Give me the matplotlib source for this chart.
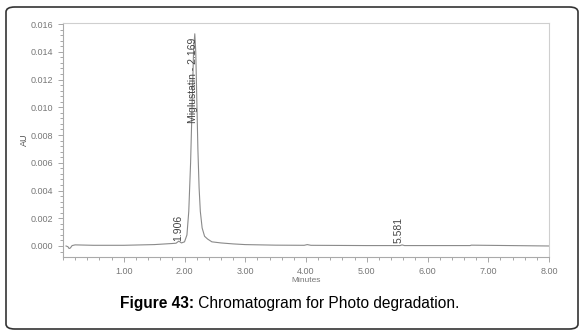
import matplotlib; matplotlib.use('Agg')
import matplotlib.pyplot as plt
from matplotlib.patches import FancyBboxPatch
from matplotlib.ticker import MultipleLocator, FormatStrFormatter

plt.rcParams['font.family'] = ['Liberation Sans', 'DejaVu Sans']

# chromatogram trace (minutes, AU)
minutes = [0.05, 0.08, 0.10, 0.12, 0.15, 0.20, 0.50, 1.00, 1.50, 1.80, 1.86, 1.906, 1.95,
           2.00, 2.04, 2.07, 2.10, 2.13, 2.15, 2.169, 2.185, 2.20, 2.22, 2.24, 2.26, 2.29,
           2.33, 2.38, 2.45, 2.60, 2.80, 3.00, 3.50, 3.97, 4.02, 4.08, 5.00, 5.55, 5.58,
           5.62, 6.70, 6.72, 8.00]
au = [0.0, -0.00005, -0.00018, -0.00015, 0.00003, 0.00008, 0.00005, 0.00005, 0.0001,
      0.00018, 0.0002, 0.00035, 0.00022, 0.0003, 0.0008, 0.0025, 0.0060, 0.0110, 0.0142,
      0.0153, 0.0140, 0.0110, 0.0070, 0.0042, 0.0025, 0.0013, 0.0007, 0.0005, 0.0003,
      0.00022, 0.00015, 0.0001, 0.00006, 0.00005, 0.0001, 0.00005, 0.00003, 0.00003,
      0.00008, 0.00003, 0.00003, 0.00006, 0.0]

peak_labels = ['1.906', 'Miglustatin - 2.169', '5.581']
peak_x = [1.90, 2.135, 5.53]
peak_y = [0.00036, 0.0089, 0.00018]

fig = plt.figure(figsize=(5.86, 3.35), dpi=100)
ax = fig.add_axes([0.1075, 0.233, 0.8295, 0.698])

ax.plot(minutes, au, color='#8a8a8a', lw=0.8)
for lab, x, y in zip(peak_labels, peak_x, peak_y):
    ax.text(x, y, lab, rotation=90, ha='center', va='bottom', fontsize=7.5,
            color='#444444', family=['Liberation Sans Narrow', 'Liberation Sans'])

ax.set_xlim(0, 8)
ax.set_ylim(-0.00079, 0.01607)
ax.xaxis.set_minor_locator(MultipleLocator(0.2))
ax.yaxis.set_major_locator(MultipleLocator(0.002))
ax.yaxis.set_minor_locator(MultipleLocator(0.0004))
ax.xaxis.set_major_formatter(FormatStrFormatter('%.2f'))
ax.yaxis.set_major_formatter(FormatStrFormatter('%.3f'))
ax.set_xticks([1, 2, 3, 4, 5, 6, 7, 8])
ax.tick_params(which='both', direction='out', colors='#999999', labelcolor='#777777',
               labelsize=6.5, width=0.6)
ax.tick_params(which='major', length=3.5)
ax.tick_params(which='minor', length=2)
for s in ax.spines.values():
    s.set_color('#cfcfcf')
    s.set_linewidth(0.8)
ax.spines['left'].set_color('#aaaaaa')
ax.spines['bottom'].set_color('#aaaaaa')
ax.set_xlabel('Minutes', fontsize=6, color='#777777', labelpad=1)
ax.set_ylabel('AU', fontsize=6.5, color='#555555', labelpad=1)

fs = 11.2
t1 = fig.text(120 / 586, 0.0955, 'Figure 43:', fontsize=fs, fontweight='bold',
              ha='left', va='center')
fig.canvas.draw()
bb = t1.get_window_extent()
t2 = fig.text(bb.x1 / 586, 0.0955, ' Chromatogram for Photo degradation.', fontsize=fs,
              ha='left', va='center')

border = FancyBboxPatch((6 / 586, 6 / 335), 572 / 586, 322 / 335,
                        boxstyle='round,pad=0,rounding_size=0.015',
                        transform=fig.transFigure, fc='none', ec='#333333', lw=1.2)
fig.patches.append(border)

plt.savefig('out.png', dpi=100)
